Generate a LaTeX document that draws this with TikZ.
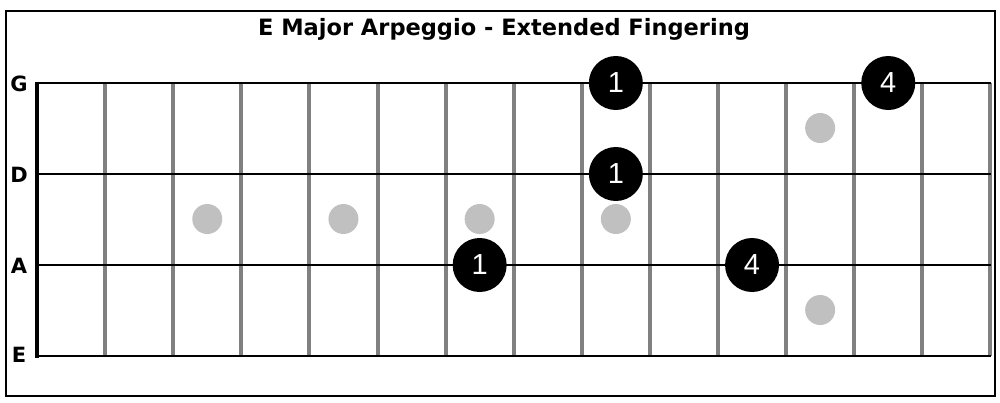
\documentclass[tikz,border=0pt]{standalone}
\usepackage{fontspec}
\setmainfont{Liberation Sans}
\newfontfamily\headfont{DejaVu Sans}
\definecolor{fretgray}{HTML}{808080}
\definecolor{dotgray}{HTML}{C0C0C0}
\tikzset{
  fretline/.style={line width=4pt, color=fretgray},
  stringline/.style={line width=1.4pt, color=black},
  strlabel/.style={font=\headfont\bfseries\fontsize{21}{21}\selectfont, inner sep=0pt},
  marker/.style={circle, fill=dotgray, minimum size=30pt, inner sep=0pt},
  finger/.style={circle, fill=black, text=white, minimum size=54pt, inner sep=0pt,
    font=\fontsize{29}{29}\selectfont}
}
\begin{document}
\begin{tikzpicture}[x=1pt,y=-1pt]
  \useasboundingbox (0,0) rectangle (1000,402);
  % frame
  \draw[line width=1.5pt] (6,11) rectangle (995,396);
  \node[font=\headfont\bfseries\fontsize{22.5}{22.5}\selectfont] (title) at (504,29) {E Major Arpeggio - Extended Fingering};
  % frets
  \foreach \k in {1,...,14}
    \draw[fretline] ({37+68.1*\k},83) -- ({37+68.1*\k},356);
  % strings
  \foreach \s/\y in {G/84, D/175, A/266, E/355} {
    \node[strlabel] (lab\s) at (19,\y) {\s};
  }
  \foreach \y in {83,174,265,356}
    \draw[stringline] (37,\y) -- (991,\y);
  % nut
  \draw[line width=4.5pt] (37,81.5) -- (37,357.5);
  % fret markers
  \foreach \k/\y/\n in {3/219/a, 5/219/b, 7/219/c, 9/219/d, 12/128/e, 12/310/f}
    \node[marker] (dot\n) at ({37+68.1*(\k-0.5)},\y) {};
  % fingering
  \node[finger] (g9) at ({37+68.1*8.5},83) {1};
  \node[finger] (g13) at ({37+68.1*12.5},83) {4};
  \node[finger] (d9) at ({37+68.1*8.5},174) {1};
  \node[finger] (a7) at ({37+68.1*6.5},265) {1};
  \node[finger] (a11) at ({37+68.1*10.5},265) {4};
\end{tikzpicture}
\end{document}
